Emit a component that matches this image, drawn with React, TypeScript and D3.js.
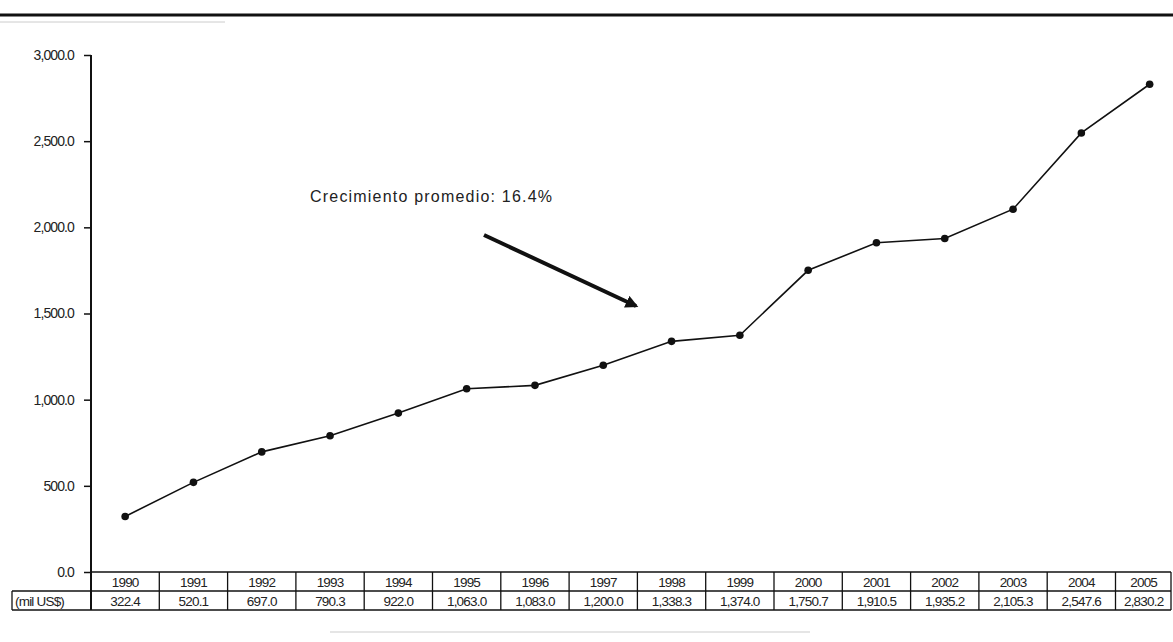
import { useEffect, useRef } from "react";
import * as d3 from "d3";

const years = ["1990","1991","1992","1993","1994","1995","1996","1997","1998","1999","2000","2001","2002","2003","2004","2005"];
const values = [322.4, 520.1, 697.0, 790.3, 922.0, 1063.0, 1083.0, 1200.0, 1338.3, 1374.0, 1750.7, 1910.5, 1935.2, 2105.3, 2547.6, 2830.2];
const yTicks = [0, 500, 1000, 1500, 2000, 2500, 3000];
const unitLabel = "(mil US$)";
const note = "Crecimiento promedio: 16.4%";

const W = 1173, H = 642;
const FONT = "'Liberation Sans', Arial, sans-serif";

export default function App() {
  const ref = useRef<SVGSVGElement | null>(null);

  useEffect(() => {
    document.body.style.margin = "0";
    if (!ref.current) return;
    const svg = d3.select(ref.current);
    svg.selectAll("*").remove();

    const left = 91, colW = 68.3;
    const x = d3.scaleBand<string>().domain(years).range([left, left + colW * years.length]).padding(0);
    const y = d3.scaleLinear().domain([0, 3000]).range([572, 55]);
    const rowH = 19;
    const y0 = y(0);

    // top rule
    svg.append("line").attr("x1", 0).attr("x2", W).attr("y1", 15).attr("y2", 15)
      .attr("stroke", "#111").attr("stroke-width", 3);
    svg.append("line").attr("x1", 0).attr("x2", 225).attr("y1", 22).attr("y2", 22)
      .attr("stroke", "#ccc").attr("stroke-width", 1);

    // y axis
    const ax = svg.append("g").attr("transform", `translate(${left},0)`)
      .call(d3.axisLeft(y).tickValues(yTicks).tickSize(7).tickPadding(10)
        .tickFormat(d => d3.format(",.1f")(d as number)));
    ax.select(".domain").remove();
    ax.selectAll("line").attr("stroke", "#111").attr("stroke-width", 1.5);
    ax.selectAll("text").attr("font-family", FONT).attr("font-size", 14).attr("letter-spacing", -0.9)
      .attr("fill", "#222");
    svg.append("line").attr("x1", left).attr("x2", left).attr("y1", y(3000)).attr("y2", y0 + rowH * 2)
      .attr("stroke", "#111").attr("stroke-width", 2);

    // data table
    const tbl = svg.append("g").attr("font-family", FONT).attr("font-size", 13.5)
      .attr("letter-spacing", -0.8).attr("fill", "#222");
    const right = Math.min(x.range()[1], W - 2);
    [y0, y0 + rowH, y0 + rowH * 2].forEach((yy, i) => {
      tbl.append("line").attr("x1", i === 0 ? left : 12).attr("x2", right).attr("y1", yy).attr("y2", yy)
        .attr("stroke", "#111").attr("stroke-width", 1.3);
    });
    tbl.append("line").attr("x1", 12).attr("x2", 12).attr("y1", y0 + rowH).attr("y2", y0 + rowH * 2)
      .attr("stroke", "#111").attr("stroke-width", 1.3);
    years.forEach(yr => {
      const xe = x(yr)! + x.bandwidth();
      if (xe <= W) {
        tbl.append("line").attr("x1", xe).attr("x2", xe).attr("y1", y0).attr("y2", y0 + rowH * 2)
          .attr("stroke", "#111").attr("stroke-width", 1.3);
      }
    });
    tbl.append("line").attr("x1", right).attr("x2", right).attr("y1", y0).attr("y2", y0 + rowH * 2)
      .attr("stroke", "#111").attr("stroke-width", 1.3);
    tbl.selectAll("text.yr").data(years).join("text").attr("class", "yr")
      .attr("x", d => x(d)! + x.bandwidth() / 2 - (d === "2005" ? 6 : 0)).attr("y", y0 + 15)
      .attr("text-anchor", "middle").text(d => d);
    tbl.selectAll("text.val").data(values).join("text").attr("class", "val")
      .attr("x", (_, i) => x(years[i])! + x.bandwidth() / 2 - (i === years.length - 1 ? 6 : 0)).attr("y", y0 + rowH + 15)
      .attr("text-anchor", "middle").text(d => d3.format(",.1f")(d));
    tbl.append("text").attr("x", 15).attr("y", y0 + rowH + 15).text(unitLabel);

    // line + markers
    const pts = values.map((v, i) => [x(years[i])! + x.bandwidth() / 2, y(v)] as [number, number]);
    svg.append("path").attr("d", d3.line()(pts)).attr("fill", "none")
      .attr("stroke", "#111").attr("stroke-width", 1.6);
    svg.selectAll("circle.pt").data(pts).join("circle").attr("class", "pt")
      .attr("cx", d => d[0]).attr("cy", d => d[1]).attr("r", 3.8).attr("fill", "#111");

    // annotation
    svg.append("text").attr("x", 310).attr("y", 202).attr("font-family", FONT).attr("font-size", 16)
      .attr("letter-spacing", 1.2).attr("fill", "#222").text(note);
    svg.append("defs").append("marker").attr("id", "ah").attr("viewBox", "0 0 10 10")
      .attr("refX", 8).attr("refY", 5).attr("markerWidth", 3.2).attr("markerHeight", 3.2)
      .attr("orient", "auto").append("path").attr("d", "M0,0L10,5L0,10z").attr("fill", "#111");
    svg.append("line").attr("x1", 484).attr("y1", 235).attr("x2", 636).attr("y2", 306)
      .attr("stroke", "#111").attr("stroke-width", 4).attr("marker-end", "url(#ah)");

    // faint bottom rule
    svg.append("line").attr("x1", 330).attr("x2", 810).attr("y1", 632).attr("y2", 632)
      .attr("stroke", "#ddd").attr("stroke-width", 1.5);
  }, []);

  return <svg ref={ref} width={W} height={H} style={{ display: "block", background: "#fff" }} />;
}
